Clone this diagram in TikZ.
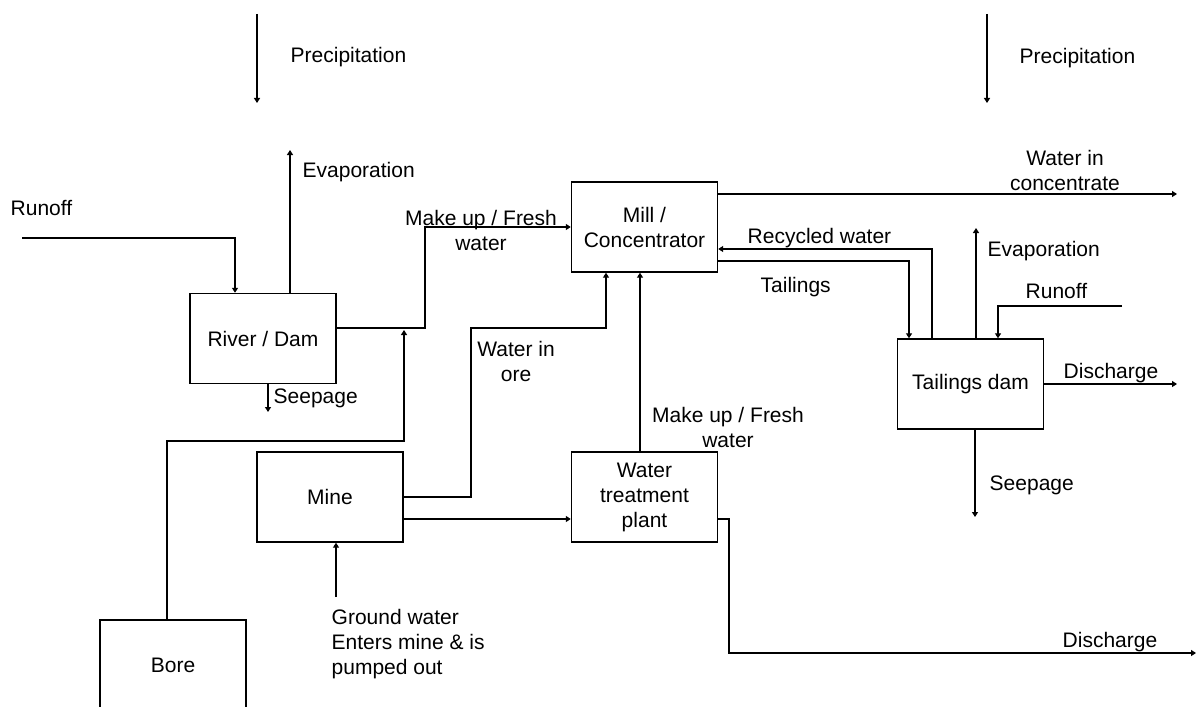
\documentclass[tikz,border=0pt]{standalone}
\usepackage{fontspec}
\setmainfont{Liberation Sans}
\usetikzlibrary{arrows.meta}
\newcommand\diagfont{\fontsize{10.5}{12.5}\selectfont}
\begin{document}
\begin{tikzpicture}[x=0.5pt,y=-0.5pt,
  line width=0.7pt,
  flow/.style={-{Triangle[width=3pt,length=2.5pt]}},
  box/.style={draw, minimum width=73pt, minimum height=45pt, inner sep=0pt,
              align=center, font=\diagfont},
  lbl/.style={inner sep=0pt, font=\diagfont},
  lblw/.style={lbl, anchor=base west},
  lblc/.style={lbl, align=center, anchor=center}]

\fill[white] (0,0) rectangle (1198,706);
\useasboundingbox (0,0) rectangle (1198,706);

% process units
\node[box] (river) at (263,338.5) {River / Dam};
\node[box] (mill)  at (644.5,227) {Mill /\\Concentrator};
\node[box] (mine)  at (330,497)   {Mine};
\node[box] (wtp)   at (644.5,497) {Water\\treatment\\plant};
\node[box] (tail)  at (970.5,384) {Tailings dam};
\node[box] (bore)  at (173,665)   {Bore};

% free ends and bends
\coordinate (precL1) at (257,14);   \coordinate (precL2) at (257,103);
\coordinate (precR1) at (987,14);   \coordinate (precR2) at (987,103);
\coordinate (evapL)  at (290,150);
\coordinate (runLa)  at (22,238);   \coordinate (runLb)  at (235,238);
\coordinate (seepL)  at (268,412);
\coordinate (mkA)    at (425,328);
\coordinate (boreT)  at (167,441);  \coordinate (boreJ)  at (404,330);
\coordinate (oreA)   at (471,328);  \coordinate (oreB)   at (606,328);
\coordinate (mkB)    at (640,0);
\coordinate (mw)     at (0,519);
\coordinate (gw)     at (336,597);
\coordinate (disA)   at (729,653);  \coordinate (disB)   at (1196,653);
\coordinate (conc)   at (1177,194);
\coordinate (recy)   at (932,249);
\coordinate (tlg)    at (909,261);
\coordinate (evapR)  at (976,228);
\coordinate (runRa)  at (1122,306); \coordinate (runRb)  at (998,306);
\coordinate (disR)   at (1177,384);
\coordinate (seepR)  at (975,517);

% connectors
\draw[flow] (precL1) -- (precL2);
\draw[flow] (precR1) -- (precR2);
\draw[flow] (evapL |- river.north) -- (evapL);
\draw[flow] (runLa) -- (runLb) -- (runLb |- river.north);
\draw[flow] (seepL |- river.south) -- (seepL);
\draw[flow] (river.east |- mkA) -- (mkA) |- (mill.west);
\draw[flow] (boreT |- bore.north) -- (boreT) -| (boreJ);
\draw[flow] (mine.east) -| (oreA) -- (oreB) -- (oreB |- mill.south);
\draw[flow] (mkB |- wtp.north) -- (mkB |- mill.south);
\draw[flow] (mine.east |- mw) -- (wtp.west |- mw);
\draw[flow] (gw) -- (gw |- mine.south);
\draw[flow] (wtp.east |- mw) -| (disA) -- (disB);
\draw[flow] (mill.east |- conc) -- (conc);
\draw[flow] (recy |- tail.north) -- (recy) -- (mill.east |- recy);
\draw[flow] (mill.east |- tlg) -- (tlg) -- (tlg |- tail.north);
\draw[flow] (evapR |- tail.north) -- (evapR);
\draw[flow] (runRa) -- (runRb) -- (runRb |- tail.north);
\draw[flow] (tail.east) -- (disR);
\draw[flow] (seepR |- tail.south) -- (seepR);

% labels
\node[lblw] (tPrecL) at (290,63)   {Precipitation};
\node[lblw] (tPrecR) at (1019,64)  {Precipitation};
\node[lblw] (tEvapL) at (302,177)  {Evaporation};
\node[lblw] (tRunL)  at (10,215)   {Runoff};
\node[lblw] (tSeepL) at (273,403)  {Seepage};
\node[lblc] (tMkA)   at (481,230)  {Make up / Fresh\\water};
\node[lblc] (tOre)   at (516,361)  {Water in\\ore};
\node[lblc] (tMkB)   at (728,427)  {Make up / Fresh\\water};
\node[lblw, align=left, anchor=north west] (tGw) at (331,609)
      {Ground water\\Enters mine \& is\\pumped out};
\node[lblc] (tConc)  at (1065,170) {Water in\\concentrate};
\node[lblw] (tRecy)  at (747,243)  {Recycled water};
\node[lblw] (tTlg)   at (760,292)  {Tailings};
\node[lblw] (tEvapR) at (987,256)  {Evaporation};
\node[lblw] (tRunR)  at (1025,298) {Runoff};
\node[lblw] (tDisR)  at (1063,378) {Discharge};
\node[lblw] (tSeepR) at (989,490)  {Seepage};
\node[lblw] (tDisB)  at (1062,647) {Discharge};

\end{tikzpicture}
\end{document}
